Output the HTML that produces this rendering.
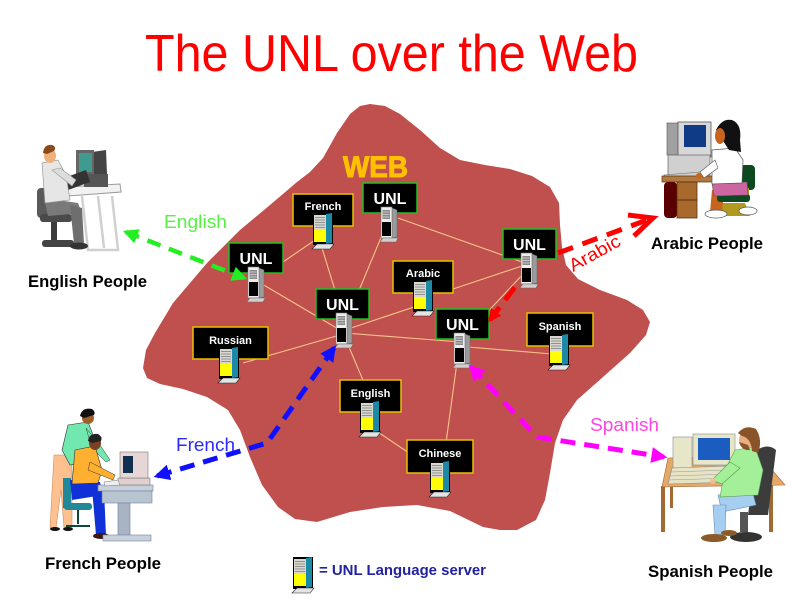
<!DOCTYPE html>
<html><head><meta charset="utf-8">
<style>
html,body{margin:0;padding:0;background:#fff;}
svg{display:block;}
text{font-family:"Liberation Sans",Arial,sans-serif;}
</style></head><body>
<svg width="800" height="600" viewBox="0 0 800 600" xmlns="http://www.w3.org/2000/svg">
<defs>
<marker id="mg" viewBox="0 0 14 14" refX="11" refY="7" markerWidth="15" markerHeight="15" markerUnits="userSpaceOnUse" orient="auto-start-reverse"><path d="M0,0 L14,7 L0,14 z" fill="#22ee22"/></marker>
<marker id="mb" viewBox="0 0 14 14" refX="11" refY="7" markerWidth="16" markerHeight="16" markerUnits="userSpaceOnUse" orient="auto-start-reverse"><path d="M0,0 L14,7 L0,14 z" fill="#1010ff"/></marker>
<marker id="mm" viewBox="0 0 14 14" refX="11" refY="7" markerWidth="16" markerHeight="16" markerUnits="userSpaceOnUse" orient="auto-start-reverse"><path d="M0,0 L14,7 L0,14 z" fill="#ff00ff"/></marker>
<marker id="mr" viewBox="0 0 14 14" refX="11" refY="7" markerWidth="13" markerHeight="13" markerUnits="userSpaceOnUse" orient="auto-start-reverse"><path d="M0,0 L14,7 L0,14 z" fill="#ff0000"/></marker>
<g id="ls">
 <rect x="2" y="0" width="20" height="32" fill="#000"/>
 <polygon points="15,1 21,0 21,30 15,31" fill="#1c8aa6"/>
 <rect x="3" y="2" width="12" height="15" fill="#d8d8d0"/>
 <g stroke="#808080" stroke-width="0.8">
  <line x1="4" y1="4.5" x2="14" y2="4.5"/><line x1="4" y1="7" x2="14" y2="7"/><line x1="4" y1="9.5" x2="14" y2="9.5"/><line x1="4" y1="12" x2="14" y2="12"/><line x1="4" y1="14.5" x2="14" y2="14.5"/>
 </g>
 <rect x="3" y="17" width="12" height="12" fill="#ffff00"/>
 <polygon points="1,36 6,31 23,31 19,36" fill="#e4e4e4" stroke="#222" stroke-width="0.6"/>
</g>
<g id="us">
 <polygon points="12,1 17,3 17,30 12,31" fill="#9a9a9a" stroke="#666" stroke-width="0.5"/>
 <rect x="1" y="0" width="11" height="31" fill="#eeeeee" stroke="#777" stroke-width="0.6"/>
 <rect x="2.5" y="3" width="7.5" height="9" fill="#8a8a8a"/>
 <g stroke="#e0e0e0" stroke-width="0.7"><line x1="3" y1="5" x2="9.5" y2="5"/><line x1="3" y1="7.5" x2="9.5" y2="7.5"/><line x1="3" y1="10" x2="9.5" y2="10"/></g>
 <rect x="2" y="15" width="9" height="14" fill="#000"/>
 <polygon points="0,35 3,31 18,31 16,35" fill="#cfcfcf" stroke="#666" stroke-width="0.5"/>
</g>
</defs>

<!-- Title -->
<text x="145" y="71" font-size="52" fill="#ff0000" textLength="493" lengthAdjust="spacingAndGlyphs">The UNL over the Web</text>

<!-- Web blob -->
<path fill="#c0504d" d="M370,104 L385,106 L400,114 L420,130 L440,148 L460,160 L485,165 L510,169 L532,176 L550,187 L559,203 L560,225 L562,247 L566,265 L578,279 L600,290 L627,300 L643,310 L650,322 L646,335 L630,353 L603,377 L577,400 L563,420 L555,443 L550,473 L545,500 L536,520 L517,530 L500,530 L483,527 L450,511 L417,505 L383,507 L350,512 L317,522 L295,519 L278,507 L262,485 L250,457 L240,430 L228,410 L207,397 L183,389 L160,384 L147,378 L143,368 L146,350 L155,333 L173,303 L207,263 L240,230 L270,205 L297,182 L310,172 L323,158 L337,133 L350,114 L360,106 Z"/>

<text x="343" y="177" font-size="30" font-weight="bold" fill="#ffc000" stroke="#ffc000" stroke-width="1" textLength="65" lengthAdjust="spacingAndGlyphs">WEB</text>

<!-- connector lines -->
<g stroke="#f5c58a" stroke-width="1.1" fill="none">
 <line x1="283" y1="262" x2="318" y2="238"/>
 <line x1="322" y1="248" x2="338" y2="300"/>
 <line x1="385" y1="228" x2="355" y2="300"/>
 <line x1="398" y1="218" x2="522" y2="262"/>
 <line x1="262" y1="284" x2="340" y2="330"/>
 <line x1="345" y1="330" x2="420" y2="305"/>
 <line x1="453" y1="289" x2="525" y2="265"/>
 <line x1="345" y1="333" x2="460" y2="342"/>
 <line x1="468" y1="347" x2="552" y2="354"/>
 <line x1="525" y1="272" x2="480" y2="320"/>
 <line x1="243" y1="363" x2="340" y2="335"/>
 <line x1="346" y1="340" x2="365" y2="385"/>
 <line x1="378" y1="432" x2="412" y2="455"/>
 <line x1="445" y1="450" x2="458" y2="355"/>
</g>

<!-- label boxes -->
<g stroke-width="1.5">
 <rect x="293" y="194" width="60" height="32" fill="#000" stroke="#e8c000"/>
 <rect x="363" y="183" width="54" height="30" fill="#000" stroke="#20c020"/>
 <rect x="229" y="243" width="54" height="30" fill="#000" stroke="#20c020"/>
 <rect x="393" y="261" width="60" height="32" fill="#000" stroke="#e8c000"/>
 <rect x="316" y="289" width="53" height="30" fill="#000" stroke="#20c020"/>
 <rect x="436" y="309" width="53" height="30" fill="#000" stroke="#20c020"/>
 <rect x="503" y="229" width="53" height="30" fill="#000" stroke="#20c020"/>
 <rect x="527" y="313" width="66" height="33" fill="#000" stroke="#e8c000"/>
 <rect x="193" y="327" width="75" height="32" fill="#000" stroke="#e8c000"/>
 <rect x="340" y="380" width="61" height="32" fill="#000" stroke="#e8c000"/>
 <rect x="407" y="440" width="66" height="33" fill="#000" stroke="#e8c000"/>
</g>
<g fill="#fff" font-weight="bold" text-anchor="middle">
 <text x="323" y="210" font-size="11">French</text>
 <text x="423" y="277" font-size="11">Arabic</text>
 <text x="560" y="330" font-size="11">Spanish</text>
 <text x="230.5" y="344" font-size="11">Russian</text>
 <text x="370.5" y="397" font-size="11">English</text>
 <text x="440" y="457" font-size="11">Chinese</text>
 <text x="390" y="204" font-size="16">UNL</text>
 <text x="256" y="264" font-size="16">UNL</text>
 <text x="342.5" y="310" font-size="16">UNL</text>
 <text x="462.5" y="330" font-size="16">UNL</text>
 <text x="529.5" y="250" font-size="16">UNL</text>
</g>

<!-- servers -->
<use href="#ls" x="311" y="213"/>
<use href="#ls" x="411" y="280"/>
<use href="#ls" x="547" y="334"/>
<use href="#ls" x="217" y="347"/>
<use href="#ls" x="358" y="401"/>
<use href="#ls" x="428" y="461"/>
<use href="#ls" x="291" y="557"/>
<use href="#us" x="380" y="207"/>
<use href="#us" x="247" y="267"/>
<use href="#us" x="335" y="313"/>
<use href="#us" x="453" y="333"/>
<use href="#us" x="520" y="253"/>

<!-- dashed arrows -->
<path d="M126,232 L244,278" stroke="#22ee22" stroke-width="4.5" stroke-dasharray="14 9" fill="none" marker-start="url(#mg)" marker-end="url(#mg)"/>
<path d="M334,348 L267,443 L157,476" stroke="#1010ff" stroke-width="5" stroke-dasharray="15 9" fill="none" marker-start="url(#mb)" marker-end="url(#mb)"/>
<path d="M471,367 L537,437 L664,457" stroke="#ff00ff" stroke-width="5" stroke-dasharray="15 9" fill="none" marker-start="url(#mm)" marker-end="url(#mm)"/>
<path d="M490,320 L518,283" stroke="#ff0000" stroke-width="5" stroke-dasharray="16 9" fill="none" marker-start="url(#mr)"/>
<path d="M558,253 L647,220" stroke="#ff0000" stroke-width="5" stroke-dasharray="16 10" fill="none"/>
<polyline points="628,215 653,218 634,236" stroke="#ff0000" stroke-width="5" fill="none" stroke-linejoin="miter"/>

<!-- arrow labels -->
<text x="164" y="228" font-size="18" fill="#55f040" textLength="63" lengthAdjust="spacingAndGlyphs">English</text>
<text x="176" y="451" font-size="18" fill="#2a2aff" textLength="59" lengthAdjust="spacingAndGlyphs">French</text>
<text x="590" y="431" font-size="18" fill="#ff44e0" textLength="69" lengthAdjust="spacingAndGlyphs">Spanish</text>
<text x="0" y="0" font-size="18" fill="#ff0000" textLength="56" lengthAdjust="spacingAndGlyphs" transform="translate(573,272) rotate(-29)">Arabic</text>

<!-- people labels -->
<g font-weight="bold" fill="#000" font-size="17">
 <text x="28" y="287" textLength="119" lengthAdjust="spacingAndGlyphs">English People</text>
 <text x="651" y="249" textLength="112" lengthAdjust="spacingAndGlyphs">Arabic People</text>
 <text x="45" y="569" textLength="116" lengthAdjust="spacingAndGlyphs">French People</text>
 <text x="648" y="577" textLength="125" lengthAdjust="spacingAndGlyphs">Spanish People</text>
</g>

<!-- legend -->
<text x="319" y="575" font-size="15" font-weight="bold" fill="#2222a0" textLength="167" lengthAdjust="spacingAndGlyphs">= UNL Language server</text>

<!-- English person -->
<g>
 <g stroke="#d0d0d0" stroke-width="2.5" fill="none"><polyline points="82,196 88,250 118,250 112,196"/><line x1="98" y1="196" x2="104" y2="248"/></g>
 <rect x="37" y="188" width="13" height="30" rx="4" fill="#5a5a5a"/>
 <rect x="40" y="214" width="32" height="8" rx="3" fill="#4a4a4a"/>
 <rect x="51" y="222" width="6" height="20" fill="#3a3a3a"/>
 <rect x="42" y="240" width="32" height="7" rx="3" fill="#444"/>
 <polygon points="66,187 120,184 121,192 68,196" fill="#f2f2f2" stroke="#999" stroke-width="1"/>
 <polygon points="92,152 106,150 107,174 92,176" fill="#444"/>
 <rect x="76" y="150" width="18" height="26" fill="#666"/>
 <rect x="79" y="153" width="13" height="19" fill="#3f9a90"/>
 <rect x="84" y="174" width="24" height="13" fill="#555"/>
 <polygon points="64,178 86,170 90,182 68,190" fill="#333"/>
 <polygon points="44,198 78,203 82,213 48,216" fill="#7a7a7a"/>
 <polygon points="70,205 82,208 84,244 74,244" fill="#6e6e6e"/>
 <ellipse cx="79" cy="246" rx="9" ry="3.5" fill="#333"/>
 <polygon points="42,163 58,160 66,175 70,200 45,203" fill="#e6e6e6" stroke="#999" stroke-width="0.7"/>
 <polygon points="52,170 60,168 76,180 72,186" fill="#dcdcdc" stroke="#999" stroke-width="0.6"/>
 <ellipse cx="50" cy="156" rx="6" ry="7" fill="#f0b07a"/>
 <path d="M43,153 Q44,144 52,145 Q57,147 54,151 L47,154 Z" fill="#8b4a1c"/>
</g>

<!-- Arabic person -->
<g>
 <rect x="667" y="123" width="14" height="32" fill="#a0a0a0" stroke="#555" stroke-width="0.6"/>
 <rect x="678" y="122" width="33" height="35" fill="#d8d8d8" stroke="#555" stroke-width="0.8"/>
 <rect x="684" y="125" width="22" height="22" fill="#0e3a86"/>
 <rect x="668" y="155" width="42" height="20" fill="#d0d0d0" stroke="#666" stroke-width="0.7"/>
 <polygon points="664,175 700,172 706,178 668,180" fill="#ccc" stroke="#666" stroke-width="0.6"/>
 <rect x="662" y="176" width="68" height="6" fill="#b07a40" stroke="#5a3010" stroke-width="0.7"/>
 <rect x="664" y="182" width="13" height="36" rx="4" fill="#5a0000"/>
 <rect x="677" y="182" width="20" height="36" fill="#a86a2c" stroke="#5a3010" stroke-width="0.8"/>
 <line x1="677" y1="200" x2="697" y2="200" stroke="#5a3010" stroke-width="1"/>
 <rect x="740" y="165" width="15" height="25" rx="4" fill="#0a4a1e"/>
 <rect x="745" y="188" width="4" height="12" fill="#b09a20"/>
 <polygon points="722,203 745,203 750,216 718,216" fill="#b09a20"/>
 <polygon points="712,190 724,190 722,212 710,212" fill="#c8641e"/>
 <ellipse cx="716" cy="214" rx="11" ry="4" fill="#fff" stroke="#555" stroke-width="0.7"/>
 <ellipse cx="748" cy="211" rx="9" ry="4" fill="#fff" stroke="#555" stroke-width="0.7"/>
 <rect x="717" y="194" width="33" height="8" rx="3" fill="#0a4a1e"/>
 <path d="M712,183 L747,182 L748,195 L714,196 Z" fill="#cc66a0" stroke="#555" stroke-width="0.6"/>
 <polygon points="712,150 735,148 743,160 742,183 712,184" fill="#fff" stroke="#555" stroke-width="0.7"/>
 <polygon points="700,172 715,160 718,168 704,178" fill="#fff" stroke="#555" stroke-width="0.6"/>
 <circle cx="699" cy="176" r="3" fill="#c8641e"/>
 <path d="M716,130 Q722,118 732,120 Q742,124 740,140 L741,152 L729,150 Z" fill="#111"/>
 <ellipse cx="720" cy="136" rx="5" ry="8" fill="#c8641e"/>
</g>

<!-- French people -->
<g>
 <polygon points="54,455 72,455 72,528 64,528 61,490 56,528 50,528" fill="#ffc090" stroke="#c08050" stroke-width="0.5"/>
 <ellipse cx="55" cy="529" rx="5" ry="2" fill="#111"/><ellipse cx="68" cy="529" rx="5" ry="2" fill="#111"/>
 <polygon points="68,425 88,422 95,440 92,462 70,465 62,450" fill="#70e8b0" stroke="#333" stroke-width="0.6"/>
 <polygon points="86,428 100,445 110,460 106,462 92,448" fill="#70e8b0" stroke="#333" stroke-width="0.5"/>
 <ellipse cx="88" cy="418" rx="6" ry="6" fill="#a0602a"/>
 <path d="M80,416 Q82,407 92,409 Q96,412 94,415 L84,418 Z" fill="#111"/>
 <rect x="63" y="478" width="8" height="30" fill="#208898"/>
 <rect x="64" y="503" width="28" height="7" rx="3" fill="#208898"/>
 <g stroke="#0a4a3a" stroke-width="2"><line x1="78" y1="510" x2="78" y2="524"/><line x1="66" y1="526" x2="90" y2="526"/></g>
 <polygon points="70,480 100,482 103,495 72,500" fill="#1030d8"/>
 <polygon points="92,488 104,490 106,535 96,535" fill="#1030d8"/>
 <ellipse cx="101" cy="536" rx="8" ry="3" fill="#3a1a10"/>
 <polygon points="75,450 95,446 102,470 98,483 72,484" fill="#ffb030" stroke="#333" stroke-width="0.6"/>
 <polygon points="90,462 115,475 113,480 88,470" fill="#ffb030" stroke="#333" stroke-width="0.5"/>
 <ellipse cx="95" cy="443" rx="6" ry="7" fill="#7a4020"/>
 <path d="M88,441 Q89,433 98,434 Q103,437 101,441 L92,443 Z" fill="#222"/>
 <rect x="98" y="485" width="55" height="6" fill="#c8d0dc" stroke="#7080a0" stroke-width="0.6"/>
 <rect x="102" y="491" width="50" height="12" fill="#b8c4d0" stroke="#7080a0" stroke-width="0.6"/>
 <rect x="118" y="503" width="12" height="33" fill="#a8b4c4" stroke="#7080a0" stroke-width="0.6"/>
 <rect x="103" y="535" width="48" height="6" fill="#c8d0dc" stroke="#7080a0" stroke-width="0.6"/>
 <rect x="118" y="478" width="32" height="7" fill="#e0d0d0" stroke="#777" stroke-width="0.6"/>
 <rect x="120" y="452" width="28" height="26" fill="#e6d6d6" stroke="#777" stroke-width="0.6"/>
 <rect x="123" y="456" width="10" height="17" fill="#103050"/>
 <polygon points="104,482 118,480 120,485 105,486" fill="#eee" stroke="#777" stroke-width="0.5"/>
</g>

<!-- Spanish person -->
<g>
 <rect x="661" y="486" width="4" height="46" fill="#a06a30"/>
 <rect x="670" y="486" width="3" height="22" fill="#a06a30"/>
 <rect x="769" y="484" width="4" height="48" fill="#a06a30"/>
 <polygon points="668,458 760,456 785,485 662,487" fill="#e4a868" stroke="#a06030" stroke-width="0.6"/>
 <rect x="673" y="437" width="19" height="31" fill="#e8e6c8" stroke="#888" stroke-width="0.6"/>
 <rect x="693" y="434" width="42" height="31" fill="#e8e6c8" stroke="#888" stroke-width="0.6"/>
 <rect x="698" y="438" width="32" height="22" fill="#1a5cc0"/>
 <polygon points="672,468 730,466 733,482 668,484" fill="#e6e4c4" stroke="#888" stroke-width="0.6"/>
 <g stroke="#999" stroke-width="0.6"><line x1="671" y1="472" x2="730" y2="470"/><line x1="670" y1="476" x2="731" y2="474"/><line x1="669" y1="480" x2="732" y2="478"/></g>
 <path d="M757,450 Q768,443 776,450 L768,515 L748,515 Z" fill="#3c3c3c"/>
 <rect x="740" y="512" width="8" height="20" fill="#555"/>
 <ellipse cx="746" cy="537" rx="16" ry="5" fill="#333"/>
 <polygon points="718,495 752,490 756,505 722,512" fill="#a6cef0" stroke="#6a8ab0" stroke-width="0.6"/>
 <polygon points="713,505 726,505 725,535 715,535" fill="#a6cef0" stroke="#6a8ab0" stroke-width="0.6"/>
 <ellipse cx="714" cy="538" rx="13" ry="4" fill="#8a5a2a"/>
 <ellipse cx="729" cy="533" rx="8" ry="3" fill="#8a5a2a"/>
 <polygon points="735,450 755,447 763,470 758,495 720,497 725,470" fill="#a4f098" stroke="#5a9a5a" stroke-width="0.6"/>
 <polygon points="730,462 740,468 722,484 712,480" fill="#a4f098" stroke="#5a9a5a" stroke-width="0.6"/>
 <circle cx="713" cy="481" r="3" fill="#f0c090"/>
 <ellipse cx="746" cy="440" rx="7" ry="9" fill="#e8b080"/>
 <path d="M738,433 Q745,424 756,429 Q763,440 758,453 L752,451 Q751,438 742,436 Z" fill="#8a5428"/>
 <path d="M739,442 Q742,451 750,450 L748,445 Z" fill="#8a5428"/>
</g>
</svg>
</body></html>
